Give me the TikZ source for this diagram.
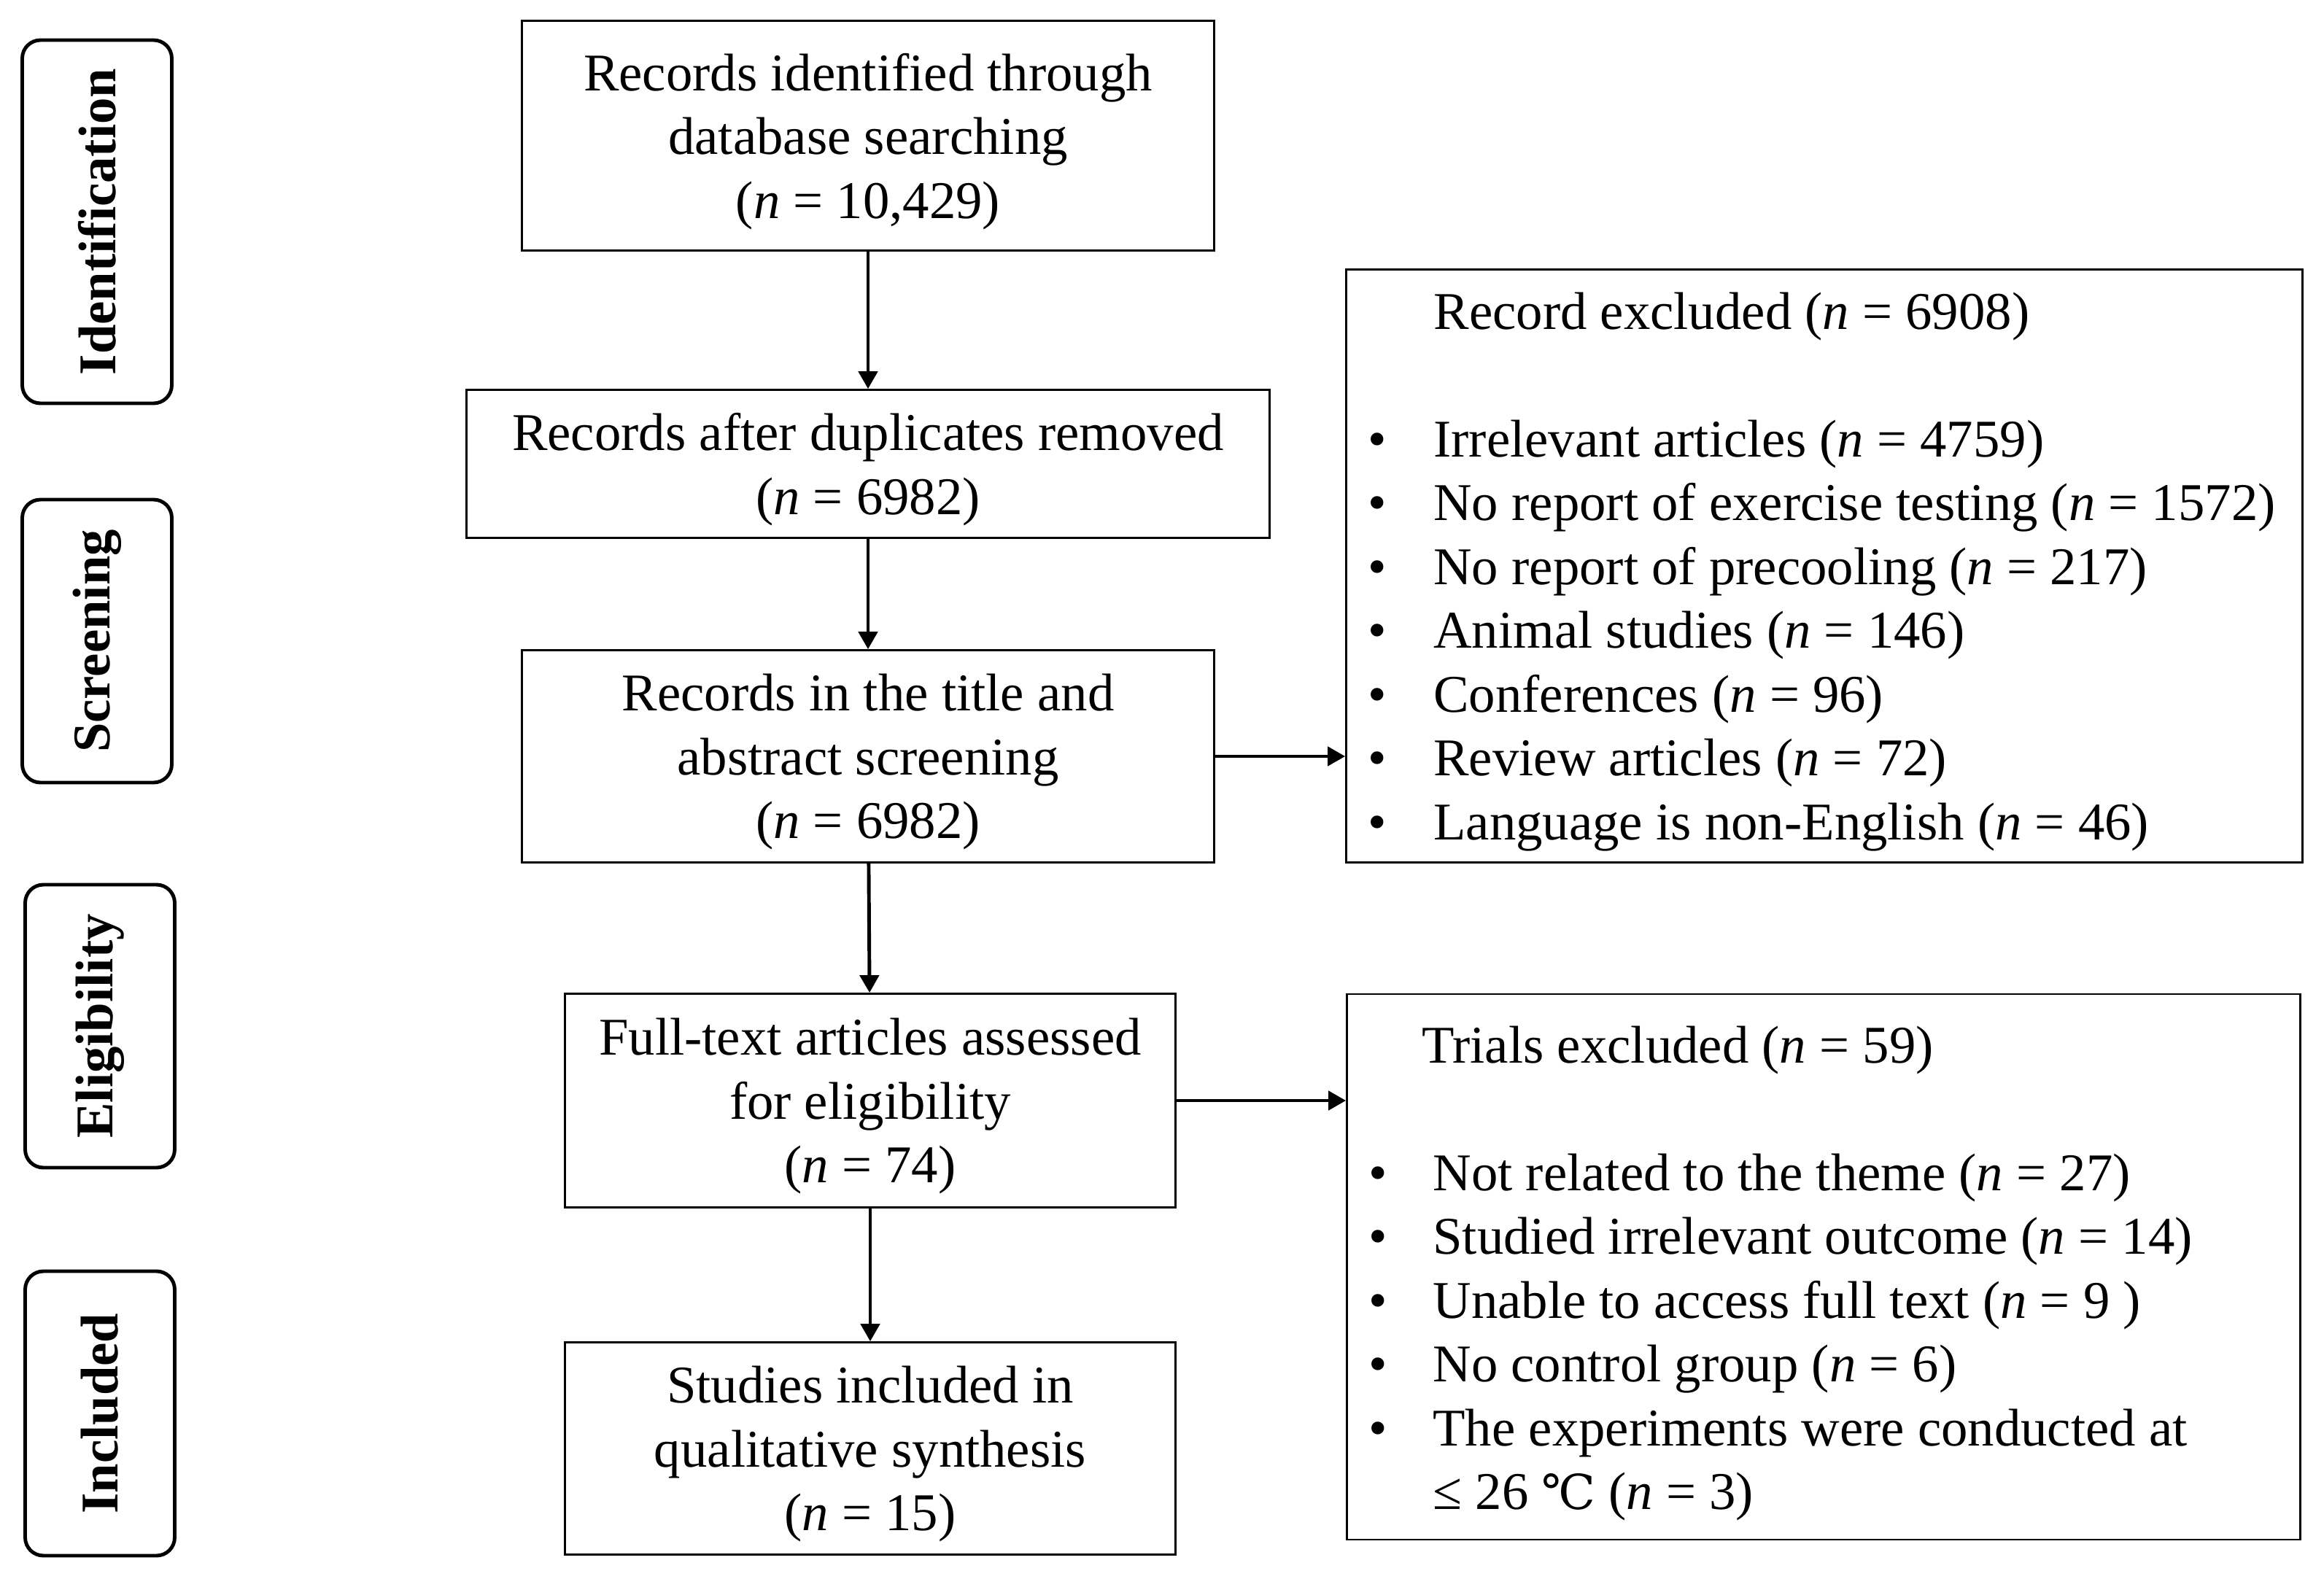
\documentclass[tikz,border=0pt]{standalone}
\usepackage{fontspec}
\usepackage{graphicx}
\setmainfont{Liberation Serif}
\newfontfamily\degfont{DejaVu Serif}
\usetikzlibrary{shapes,arrows.meta,positioning}
\newcommand{\figfont}{\fontsize{20.7}{24.9}\selectfont}
\newcommand{\bul}[1][0.90cm]{\makebox[#1][l]{\textbullet}}
\tikzset{record/.style={draw,line width=0.8pt,align=center,inner sep=0pt,text depth=0pt}}
\tikzset{stage/.style={draw,rounded corners=0.25cm,line width=1.4pt,inner sep=0pt,font=\figfont\bfseries,minimum width=2.05cm}}
\tikzset{excluded/.style={draw,line width=0.8pt,inner xsep=0.30cm,inner ysep=0pt}}
\tikzset{arrow/.style={draw,line width=1.4pt}}

\begin{document}
\begin{tikzpicture}[node distance=4.5cm,auto,font=\figfont,>={Triangle[length=0.24cm,width=0.26cm]}]
    \useasboundingbox (0,0) rectangle (31.86,-21.65);

    % main column
    \node[record,minimum width=9.49cm,minimum height=3.15cm] (b1) at (11.90,-1.86) {Records identified through\\database searching\\(\textit{n} = 10,429)};
    \node[record,below of=b1,node distance=4.50cm,minimum width=11.01cm,minimum height=2.03cm] (b2) {Records after duplicates removed\\(\textit{n} = 6982)};
    \node[record,below of=b2,node distance=4.01cm,minimum width=9.49cm,minimum height=2.91cm] (b3) {Records in the title and\\abstract screening\\(\textit{n} = 6982)};
    \node[record,below of=b3,node distance=4.72cm,xshift=0.03cm,minimum width=8.37cm,minimum height=2.93cm] (b4) {Full-text articles assessed\\for eligibility\\(\textit{n} = 74)};
    \node[record,below of=b4,node distance=4.77cm,minimum width=8.37cm,minimum height=2.91cm] (b5) {Studies included in\\qualitative synthesis\\(\textit{n} = 15)};

    % exclusion boxes
    \node[excluded,right of=b3,node distance=13.11cm,yshift=2.61cm,minimum height=8.13cm] (ex1) {\parbox{12.51cm}{\raggedright\vspace*{0.16cm}
        \hspace*{0.90cm}Record excluded (\textit{n} = 6908)\\[24.9pt]
        \bul Irrelevant articles (\textit{n} = 4759)\\
        \bul No report of exercise testing (\textit{n} = 1572)\\
        \bul No report of precooling (\textit{n} = 217)\\
        \bul Animal studies (\textit{n} = 146)\\
        \bul Conferences (\textit{n} = 96)\\
        \bul Review articles (\textit{n} = 72)\\
        \bul Language is non-English (\textit{n} = 46)}};
    \node[excluded,right of=b4,node distance=13.07cm,yshift=-2.28cm,minimum height=7.48cm] (ex2) {\parbox{12.47cm}{\raggedright\vspace*{0.18cm}
        \hspace*{0.73cm}Trials excluded (\textit{n} = 59)\\[24.9pt]
        \bul[0.88cm]Not related to the theme (\textit{n} = 27)\\
        \bul[0.88cm]Studied irrelevant outcome (\textit{n} = 14)\\
        \bul[0.88cm]Unable to access full text (\textit{n} = 9 )\\
        \bul[0.88cm]No control group (\textit{n} = 6)\\
        \bul[0.88cm]The experiments were conducted at\\
        \hspace*{0.88cm}≤ 26 {\degfont\fontsize{18.8}{24.9}\selectfont ℃} (\textit{n} = 3)}};

    % stages
    \node[stage,minimum height=4.98cm] (ident) at (1.33,-3.04) {\rotatebox{90}{Identification}};
    \node[stage,below of=ident,node distance=5.75cm,minimum height=3.88cm] (screen) {\rotatebox{90}{Screening}};
    \node[stage,below of=screen,node distance=5.28cm,xshift=0.04cm,minimum height=3.88cm] (elig) {\rotatebox{90}{Eligibility}};
    \node[stage,below of=elig,node distance=5.31cm,minimum height=3.90cm] (incl) {\rotatebox{90}{Included}};

        \path[arrow,->] (b1) -- (b2);
        \path[arrow,->] (b2) -- (b3);
        \path[arrow,->] (b3) -- (b4);
        \path[arrow,->] (b4) -- (b5);
        \path[arrow,->] (b3.east) -- (b3.east -| ex1.west);
        \path[arrow,->] (b4.east) -- (b4.east -| ex2.west);
\end{tikzpicture}
\end{document}
